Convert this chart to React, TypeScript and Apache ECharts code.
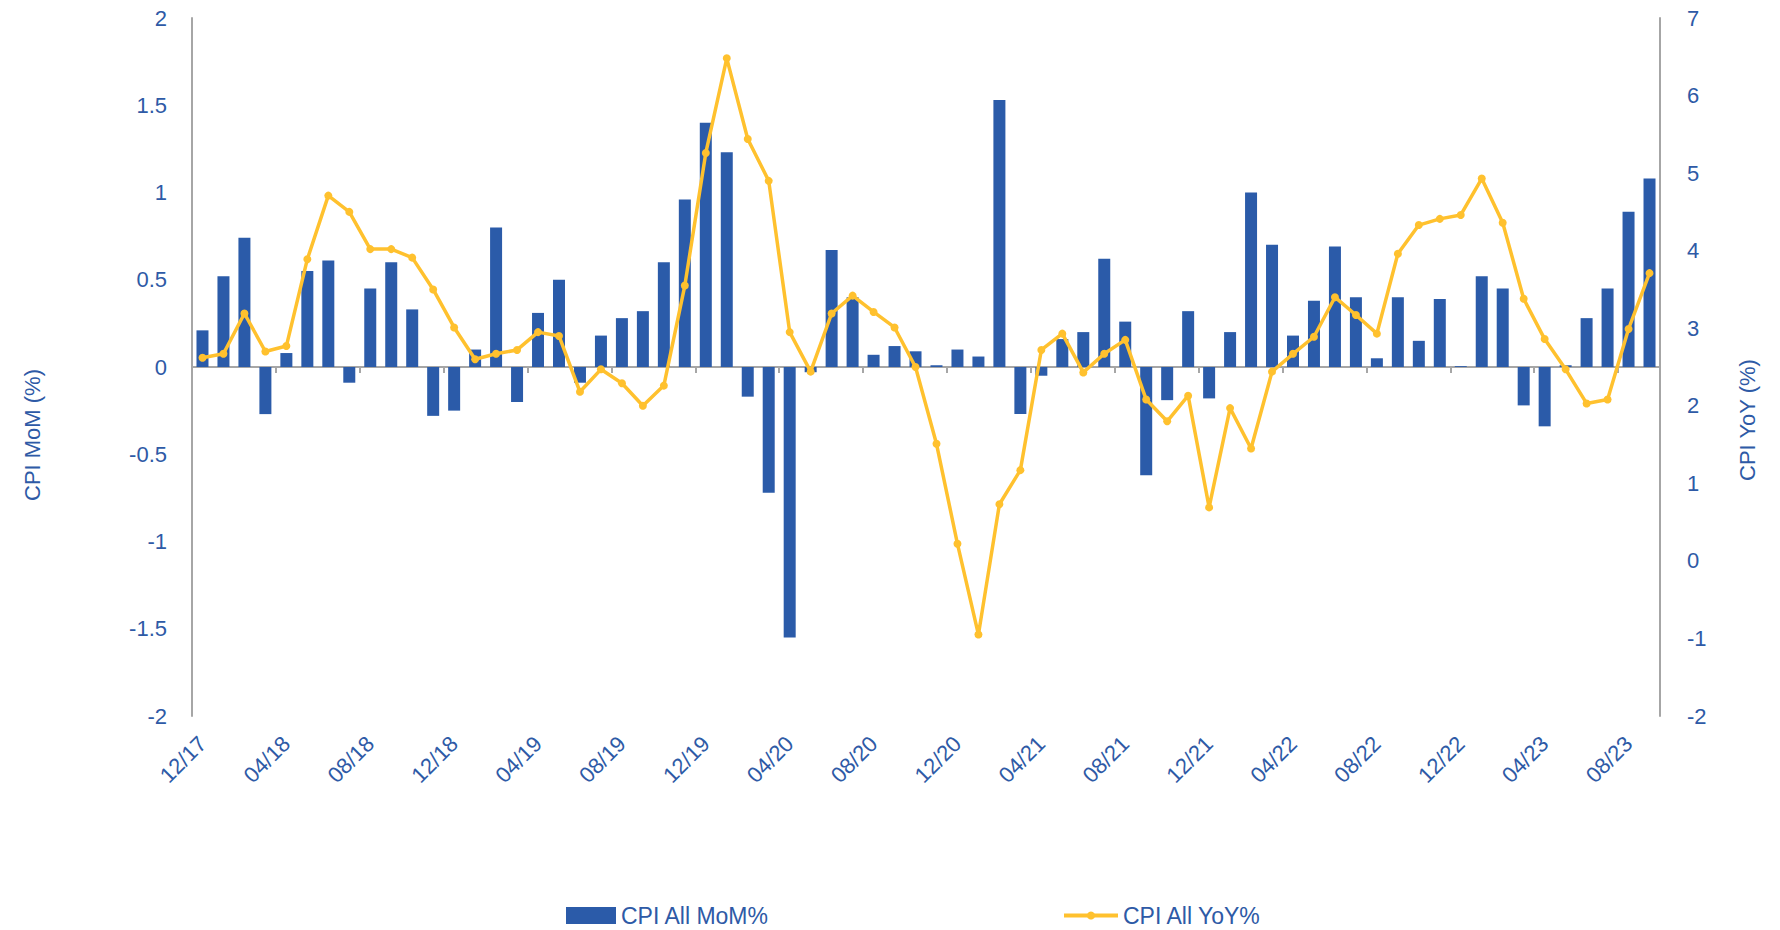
import React, { useEffect, useRef } from "react";
import * as echarts from "echarts";

const categories: string[] = [
  "12/17",
  "01/18", "02/18", "03/18", "04/18", "05/18", "06/18", "07/18", "08/18", "09/18", "10/18", "11/18", "12/18",
  "01/19", "02/19", "03/19", "04/19", "05/19", "06/19", "07/19", "08/19", "09/19", "10/19", "11/19", "12/19",
  "01/20", "02/20", "03/20", "04/20", "05/20", "06/20", "07/20", "08/20", "09/20", "10/20", "11/20", "12/20",
  "01/21", "02/21", "03/21", "04/21", "05/21", "06/21", "07/21", "08/21", "09/21", "10/21", "11/21", "12/21",
  "01/22", "02/22", "03/22", "04/22", "05/22", "06/22", "07/22", "08/22", "09/22", "10/22", "11/22", "12/22",
  "01/23", "02/23", "03/23", "04/23", "05/23", "06/23", "07/23", "08/23", "09/23",
];

const momValues: number[] = [
  0.21, 0.52, 0.74, -0.27, 0.08, 0.55, 0.61, -0.09, 0.45, 0.6,
  0.33, -0.28, -0.25, 0.1, 0.8, -0.2, 0.31, 0.5, -0.09, 0.18,
  0.28, 0.32, 0.6, 0.96, 1.4, 1.23, -0.17, -0.72, -1.55, -0.03,
  0.67, 0.4, 0.07, 0.12, 0.09, 0.01, 0.1, 0.06, 1.53, -0.27,
  -0.05, 0.16, 0.2, 0.62, 0.26, -0.62, -0.19, 0.32, -0.18, 0.2,
  1.0, 0.7, 0.18, 0.38, 0.69, 0.4, 0.05, 0.4, 0.15, 0.39,
  0.005, 0.52, 0.45, -0.22, -0.34, 0.01, 0.28, 0.45, 0.89, 1.08,
];

const yoyValues: number[] = [
  2.62, 2.67, 3.19, 2.7, 2.77, 3.89, 4.71, 4.5, 4.02, 4.02,
  3.91, 3.5, 3.01, 2.6, 2.67, 2.72, 2.95, 2.9, 2.18, 2.47,
  2.29, 2.0, 2.26, 3.55, 5.26, 6.48, 5.44, 4.9, 2.95, 2.44,
  3.19, 3.42, 3.21, 3.01, 2.5, 1.51, 0.22, -0.95, 0.73, 1.17,
  2.72, 2.93, 2.43, 2.67, 2.85, 2.08, 1.8, 2.13, 0.69, 1.97,
  1.45, 2.44, 2.67, 2.89, 3.4, 3.17, 2.93, 3.96, 4.33, 4.41,
  4.46, 4.93, 4.36, 3.38, 2.86, 2.47, 2.03, 2.08, 2.99, 3.71,
];

const seriesNames = ["CPI All MoM%", "CPI All YoY%"];
const axisTitles = ["CPI MoM (%)", "CPI YoY (%)"];

const BLUE = "#2B5BA9";
const TEXT = "#2E5AA6";
const GOLD = "#FFC12E";
const AXIS = "#A6A6A6";
const FONT = "Liberation Sans, Arial, sans-serif";

export default function App() {
  const ref = useRef<HTMLDivElement>(null);

  useEffect(() => {
    if (!ref.current) return;
    const chart = echarts.init(ref.current, undefined, { renderer: "svg" });
    chart.setOption({
      animation: false,
      backgroundColor: "#ffffff",
      textStyle: { fontFamily: FONT },
      grid: { left: 192, right: 120, top: 18, bottom: 214, containLabel: false },
      legend: [
        {
          data: [{ name: seriesNames[0], icon: "rect" }],
          left: 561,
          top: 899,
          itemWidth: 50,
          itemHeight: 17,
          itemGap: 7,
          textStyle: { color: TEXT, fontSize: 23, fontFamily: FONT },
        },
        {
          data: [seriesNames[1]],
          left: 1057,
          top: 899,
          itemWidth: 54,
          itemHeight: 10,
          lineStyle: { width: 4 },
          textStyle: { color: TEXT, fontSize: 23, fontFamily: FONT },
        },
      ],
      xAxis: [
        {
          type: "category",
          data: categories,
          boundaryGap: true,
          axisLine: { show: true, onZero: true, onZeroAxisIndex: 0, lineStyle: { color: AXIS, width: 2 } },
          axisTick: { show: true, interval: 3, length: 6, lineStyle: { color: AXIS, width: 2 } },
          axisLabel: { show: false },
          splitLine: { show: false },
        },
        {
          type: "category",
          data: categories,
          position: "bottom",
          boundaryGap: true,
          axisLine: { show: false, onZero: false },
          axisTick: { show: false },
          axisLabel: {
            show: true,
            interval: 3,
            rotate: 45,
            margin: 24,
            color: TEXT,
            fontSize: 22,
            fontFamily: FONT,
          },
          splitLine: { show: false },
        },
      ],
      yAxis: [
        {
          type: "value",
          min: -2,
          max: 2,
          interval: 0.5,
          axisLine: { show: true, lineStyle: { color: AXIS, width: 2 } },
          axisTick: { show: false },
          splitLine: { show: false },
          axisLabel: { color: TEXT, fontSize: 22, margin: 25, fontFamily: FONT },
        },
        {
          type: "value",
          position: "right",
          min: -2,
          max: 7,
          interval: 1,
          axisLine: { show: true, lineStyle: { color: AXIS, width: 2 } },
          axisTick: { show: false },
          splitLine: { show: false },
          axisLabel: { color: TEXT, fontSize: 22, margin: 27, fontFamily: FONT },
        },
      ],
      series: [
        {
          name: seriesNames[0],
          type: "bar",
          xAxisIndex: 0,
          yAxisIndex: 0,
          data: momValues,
          barWidth: 12,
          itemStyle: { color: BLUE },
        },
        {
          name: seriesNames[1],
          type: "line",
          xAxisIndex: 0,
          yAxisIndex: 1,
          data: yoyValues,
          symbol: "circle",
          symbolSize: 8,
          lineStyle: { color: GOLD, width: 3.5 },
          itemStyle: { color: GOLD },
          z: 5,
        },
      ],
      graphic: [
        {
          type: "text",
          x: 32,
          y: 435,
          rotation: Math.PI / 2,
          style: {
            text: axisTitles[0],
            fill: TEXT,
            fontSize: 22,
            fontFamily: FONT,
            textAlign: "center",
            textVerticalAlign: "middle",
          },
        },
        {
          type: "text",
          x: 1747,
          y: 420,
          rotation: Math.PI / 2,
          style: {
            text: axisTitles[1],
            fill: TEXT,
            fontSize: 22,
            fontFamily: FONT,
            textAlign: "center",
            textVerticalAlign: "middle",
          },
        },
      ],
    });
    return () => chart.dispose();
  }, []);

  return (
    <div
      ref={ref}
      style={{ position: "absolute", left: 0, top: 0, width: 1780, height: 930, background: "#fff" }}
    />
  );
}
